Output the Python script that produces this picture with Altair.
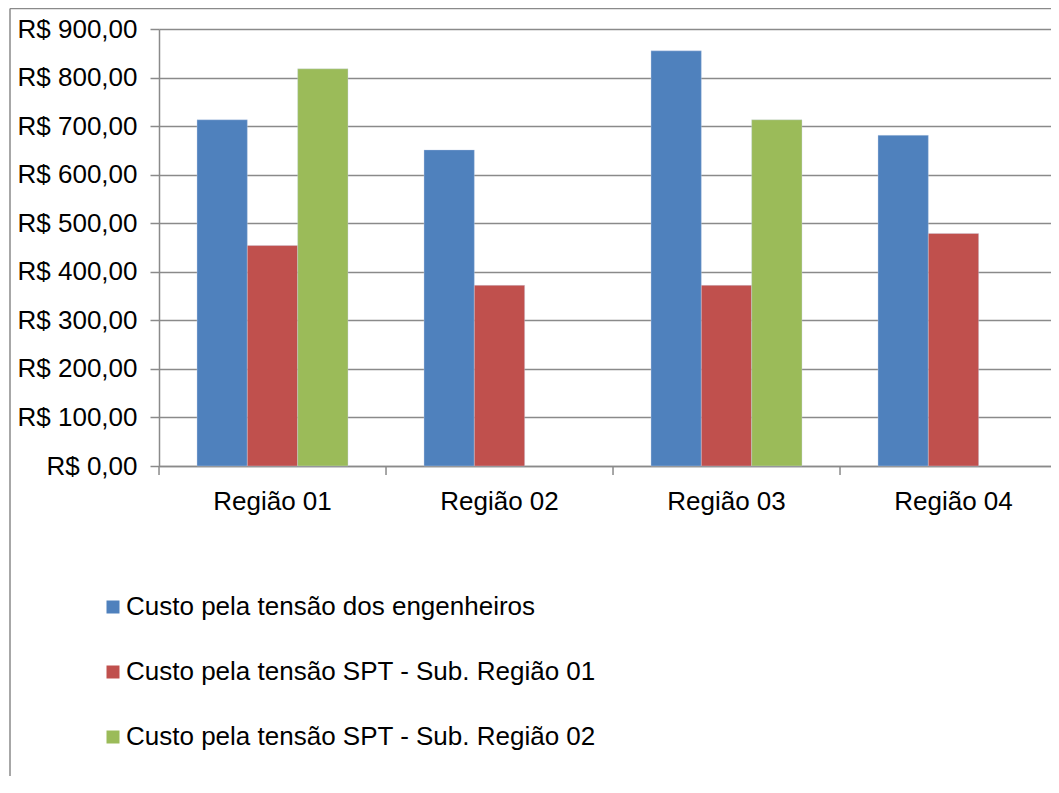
import altair as alt
import pandas as pd

regioes = ["Região 01", "Região 02", "Região 03", "Região 04"]
series = [
    "Custo pela tensão dos engenheiros",
    "Custo pela tensão SPT - Sub. Região 01",
    "Custo pela tensão SPT - Sub. Região 02",
]
engenheiros = [713, 651, 855, 681]
sub_regiao_01 = [454, 372, 372, 479]
sub_regiao_02 = [818, None, 713, None]
cores = ["#4F81BD", "#C0504D", "#9BBB59"]
y_ticks = [0, 100, 200, 300, 400, 500, 600, 700, 800, 900]

rows = []
for s, vals in zip(series, [engenheiros, sub_regiao_01, sub_regiao_02]):
    for r, v in zip(regioes, vals):
        if v is not None:
            rows.append({"Região": r, "Série": s, "Valor": v})
df = pd.DataFrame(rows)

FONT = "Liberation Sans"
FS = 26
GREY = "#8a8a8a"
W, H = 892, 437

x_enc = alt.X(
    "Região:N",
    sort=regioes,
    scale=alt.Scale(range=[0, 908], paddingInner=0.335, paddingOuter=0.1675),
    axis=alt.Axis(
        title=None, labelAngle=0, ticks=False,
        labelPadding=22, grid=False, domain=True,
    ),
)

bars = alt.Chart(df).mark_bar(stroke="#c9d6ea", strokeWidth=0.6, strokeOpacity=0.6).encode(
    x=x_enc,
    xOffset=alt.XOffset(
        "Série:N", sort=series,
        scale=alt.Scale(domain=series, paddingInner=0, paddingOuter=0),
    ),
    y=alt.Y(
        "Valor:Q",
        scale=alt.Scale(domain=[0, 900], nice=False),
        axis=alt.Axis(
            title=None, values=y_ticks,
            labelExpr="'R$ ' + replace(format(datum.value, '.2f'), '.', ',')",
            tickSize=9, labelPadding=13, grid=True,
        ),
    ),
    color=alt.Color(
        "Série:N", sort=series,
        scale=alt.Scale(domain=series, range=cores),
        legend=alt.Legend(
            title=None, orient="none", legendX=-59, legendY=565,
            direction="vertical", symbolType="square", symbolSize=169,
            labelFontSize=FS, labelFont=FONT, labelColor="black",
            rowPadding=39, labelOffset=0, symbolStrokeWidth=0,
            labelLimit=0,
        ),
    ),
)

# category separator ticks below the x axis (between the bands)
sep_ticks = alt.Chart(pd.DataFrame({"Região": regioes})).mark_rule(
    color=GREY, strokeWidth=1.5, xOffset=-38
).encode(
    x=alt.X("Região:N", sort=regioes, bandPosition=0),
    y=alt.value(H),
    y2=alt.value(H + 9),
)

frame_data = pd.DataFrame({"k": [0]})
left_border = alt.Chart(frame_data).mark_rule(color=GREY, strokeWidth=1.5).encode(
    x=alt.value(-149), y=alt.value(-20.5), y2=alt.value(H + 345)
)
top_border = alt.Chart(frame_data).mark_rule(color=GREY, strokeWidth=1.5).encode(
    x=alt.value(-149), x2=alt.value(W + 10), y=alt.value(-20.5)
)

chart = alt.layer(left_border, top_border, bars, sep_ticks).properties(
    width=W,
    height=H,
    autosize=alt.AutoSizeParams(type="none"),
    padding={"left": 151, "top": 21, "right": 0, "bottom": 310},
).configure_view(stroke=None).configure_axis(
    labelFont=FONT, labelFontSize=FS, labelColor="black",
    domainColor=GREY, tickColor=GREY, gridColor=GREY,
    domainWidth=1.5, tickWidth=1.5, gridWidth=1.5,
)

chart.save("out.html", embed_options={"renderer": "svg", "actions": False})
